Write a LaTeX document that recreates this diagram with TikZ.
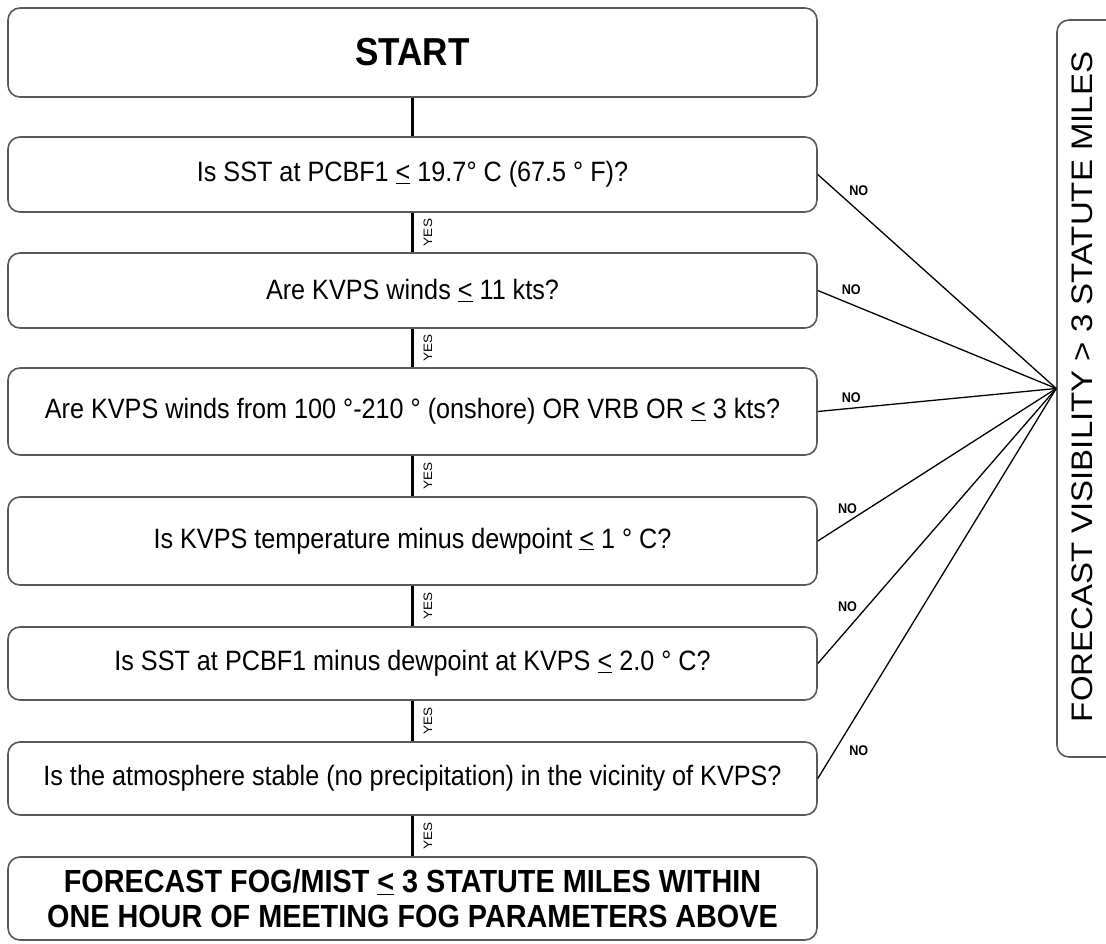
\documentclass[tikz,border=0pt]{standalone}
\usepackage{fontspec}
\setmainfont{Liberation Sans}[FakeStretch=0.9]
\newfontfamily\vfont{Liberation Sans}[FakeStretch=1.11]
\tikzset{
  box/.style={draw=black!65, line width=1.6pt, rounded corners=12pt,
    minimum width=809pt, inner sep=0pt, align=center,
    font=\fontsize{28}{32}\selectfont},
  yesline/.style={line width=3pt, black},
  noline/.style={line width=1.3pt, black},
  nolabel/.style={font=\bfseries\fontsize{14}{16}\selectfont, inner sep=0pt},
  yeslabel/.style={font=\vfont\fontsize{12.2}{14}\selectfont, rotate=90, inner sep=0pt},
}
\newcommand{\myle}{\underline{<}}
\begin{document}
\begin{tikzpicture}[x=1pt,y=-1pt]
\useasboundingbox (0,0) rectangle (1106,944);
\clip (0,0) rectangle (1106,944);
\fill[white] (0,0) rectangle (1106,944);
% main column
\node[box, minimum height=89pt, font=\bfseries\fontsize{39}{42}\selectfont] (start) at (412.5,52.5) {START};
\node[box, minimum height=75pt] (b1) at (412.5,174.5) {Is SST at PCBF1 \myle\ 19.7° C (67.5 ° F)?};
\node[box, minimum height=75pt] (b2) at (412.5,290.5) {Are KVPS winds \myle\ 11 kts?};
\node[box, minimum height=87pt] (b3) at (412.5,411.5) {Are KVPS winds from 100 °-210 ° (onshore) OR VRB OR \myle\ 3 kts?};
\node[box, minimum height=88pt] (b4) at (412.5,541) {Is KVPS temperature minus dewpoint \myle\ 1 ° C?};
\node[box, minimum height=73pt] (b5) at (412.5,663.5) {Is SST at PCBF1 minus dewpoint at KVPS \myle\ 2.0 ° C?};
\node[box, minimum height=73pt] (b6) at (412.5,778.5) {Is the atmosphere stable (no precipitation) in the vicinity of KVPS?};
\node[box, minimum height=83pt, font=\bfseries\fontsize{32}{35}\selectfont] (fin) at (412.5,898.5)
  {FORECAST FOG/MIST \myle\ 3 STATUTE MILES WITHIN\\ONE HOUR OF MEETING FOG PARAMETERS ABOVE};
% right box
\node[draw=black!65, line width=1.6pt, rounded corners=12pt, minimum width=80pt, minimum height=737pt, inner sep=0pt] (vis) at (1097,388.5) {};
\node[rotate=90, inner sep=0pt, font=\vfont\fontsize{29.7}{32}\selectfont] (vistext) at (1082.5,387) {FORECAST VISIBILITY > 3 STATUTE MILES};
% yes connectors
\draw[yesline] (start.south) -- (b1.north);
\draw[yesline] (b1.south) -- (b2.north);
\draw[yesline] (b2.south) -- (b3.north);
\draw[yesline] (b3.south) -- (b4.north);
\draw[yesline] (b4.south) -- (b5.north);
\draw[yesline] (b5.south) -- (b6.north);
\draw[yesline] (b6.south) -- (fin.north);
\node[yeslabel] (y1) at (428,232.5) {YES};
\node[yeslabel] (y2) at (428,348) {YES};
\node[yeslabel] (y3) at (428,476) {YES};
\node[yeslabel] (y4) at (428,606) {YES};
\node[yeslabel] (y5) at (428,721) {YES};
\node[yeslabel] (y6) at (428,836) {YES};
% no connectors
\draw[noline] (b1.east) -- (vis.west);
\draw[noline] (b2.east) -- (vis.west);
\draw[noline] (b3.east) -- (vis.west);
\draw[noline] (b4.east) -- (vis.west);
\draw[noline] (b5.east) -- (vis.west);
\draw[noline] (b6.east) -- (vis.west);
\node[nolabel] (n1) at (858.8,190.3) {NO};
\node[nolabel] (n2) at (851.3,289.7) {NO};
\node[nolabel] (n3) at (851.3,398) {NO};
\node[nolabel] (n4) at (847.5,508.7) {NO};
\node[nolabel] (n5) at (847.5,607) {NO};
\node[nolabel] (n6) at (858.8,750.5) {NO};
\end{tikzpicture}
\end{document}
